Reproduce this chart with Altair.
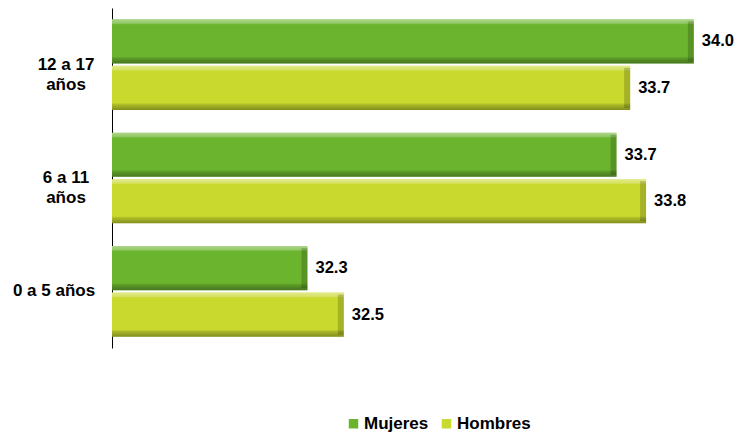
import altair as alt
import pandas as pd

# ---- data ----
categorias = ["12 a 17\naños", "6 a 11\naños", "0 a 5 años"]
series = ["Mujeres", "Hombres"]
mujeres = [34.00, 33.66, 32.30]
hombres = [33.72, 33.79, 32.46]
colores = ["#6BB52E", "#C9D92E"]

rows = []
for c, m, h in zip(categorias, mujeres, hombres):
    rows.append({"cat": c, "serie": "Mujeres", "valor": m})
    rows.append({"cat": c, "serie": "Hombres", "valor": h})
df = pd.DataFrame(rows)
cats_df = pd.DataFrame({"cat": categorias})

FONT = "Liberation Sans, Arial, sans-serif"
X_MIN = 31.44
X_MAX = 34.08

y_enc = alt.Y(
    "cat:N",
    sort=categorias,
    scale=alt.Scale(paddingInner=0.2, paddingOuter=0.1),
    axis=alt.Axis(labels=False, ticks=False, title=None, domainColor="#000000",
                  domainWidth=1, grid=False),
)
yoff = alt.YOffset("serie:N", sort=series, scale=alt.Scale(paddingInner=0.05))
x_enc = alt.X("valor:Q", scale=alt.Scale(domain=[X_MIN, X_MAX], zero=False, nice=False,
                                         clamp=True),
              axis=None)

base = alt.Chart(df).encode(y=y_enc, yOffset=yoff, x=x_enc)

bars = base.mark_bar().encode(
    x2=alt.datum(X_MIN),
    color=alt.Color(
        "serie:N",
        sort=series,
        scale=alt.Scale(domain=series, range=colores),
        legend=alt.Legend(
            orient="none", legendX=233, legendY=407, direction="horizontal",
            title=None, symbolType="square", symbolSize=90, symbolStrokeWidth=0,
            labelFont=FONT, labelFontSize=17, labelFontWeight="bold",
            labelColor="#000000", columnPadding=9, labelOffset=2,
        ),
    ),
)

bevel = base.mark_bar(
    fill={
        "gradient": "linear", "x1": 0, "y1": 0, "x2": 0, "y2": 1,
        "stops": [
            {"offset": 0.0, "color": "rgba(255,255,255,0.45)"},
            {"offset": 0.09, "color": "rgba(255,255,255,0.25)"},
            {"offset": 0.12, "color": "rgba(255,255,255,0.0)"},
            {"offset": 0.84, "color": "rgba(0,0,0,0.0)"},
            {"offset": 0.88, "color": "rgba(0,0,0,0.15)"},
            {"offset": 1.0, "color": "rgba(0,0,0,0.35)"},
        ],
    }
).encode(x2=alt.datum(X_MIN))

chamfer = base.mark_tick(
    orient="vertical", thickness=6, size=40, color="#000000", opacity=0.18, xOffset=-3
)

labels = base.mark_text(
    align="left", baseline="middle", dx=8, font=FONT, fontSize=16.5,
    fontWeight="bold", color="#000000"
).encode(text=alt.Text("valor:Q", format=".1f"))

cat_two = alt.Chart(cats_df).transform_filter("indexof(datum.cat, '\\n') >= 0").mark_text(
    lineBreak="\n", align="center", baseline="middle", font=FONT, fontSize=17,
    fontWeight="bold", color="#000000", lineHeight=20
).encode(y=alt.Y("cat:N", sort=categorias), x=alt.value(-46), text="cat:N")

cat_one = alt.Chart(cats_df).transform_filter("indexof(datum.cat, '\\n') < 0").mark_text(
    align="center", baseline="middle", font=FONT, fontSize=17,
    fontWeight="bold", color="#000000"
).encode(y=alt.Y("cat:N", sort=categorias), x=alt.value(-58), text="cat:N")

chart = alt.layer(bars, bevel, chamfer, labels, cat_two, cat_one).properties(
    width=600,
    height=340,
    autosize=alt.AutoSizeParams(type="none"),
    padding={"left": 104, "top": 0, "right": 23, "bottom": 84},
).configure_view(stroke=None)

chart.save("out.html", embed_options={"renderer": "svg", "actions": False})
